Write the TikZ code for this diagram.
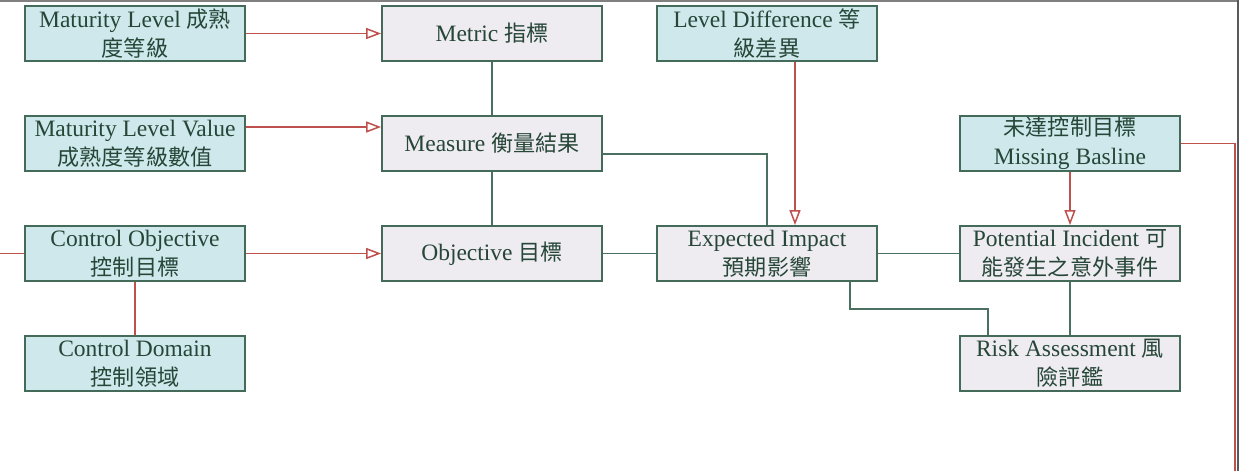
\documentclass[tikz,border=0pt]{standalone}
\usepackage{fontspec}
\setmainfont{Liberation Serif}
\newfontfamily\cjk{Noto Sans CJK TC}[Scale=0.94]
\newcommand{\zh}[1]{{\cjk #1}}
\usetikzlibrary{arrows.meta}
\definecolor{cyanfill}{RGB}{207,232,236}
\definecolor{greyfill}{RGB}{238,235,241}
\definecolor{boxline}{RGB}{68,106,90}
\definecolor{txtcol}{RGB}{38,70,55}
\definecolor{redline}{RGB}{190,80,78}
\definecolor{greenline}{RGB}{74,112,97}
\tikzset{
  box/.style={draw=boxline, line width=1.8pt, minimum width=220pt, minimum height=55pt,
    inner sep=0pt, align=center, text=txtcol, font=\fontsize{23.5}{29}\selectfont},
  cbox/.style={box, fill=cyanfill},
  gbox/.style={box, fill=greyfill},
  redc/.style={draw=redline, line width=1.5pt},
  redarrow/.style={redc, -{Triangle[open, length=15pt, width=11pt, fill=white]}},
  greenc/.style={draw=greenline, line width=1.8pt},
}
\begin{document}
\begin{tikzpicture}[x=1pt, y=-1pt]
\useasboundingbox (0,0) rectangle (1239,471);
% frame
\draw[draw=gray, line width=1.5pt] (0,1) -- (1239,1);
\draw[draw=black!65, line width=2pt] (1238,0) -- (1238,471);
% nodes
\node[cbox] (ml)  at (135,33.5)  {Maturity Level \zh{成熟}\\\zh{度等級}};
\node[cbox] (mlv) at (135,143.5) {Maturity Level Value\\\zh{成熟度等級數值}};
\node[cbox] (co)  at (135,253.5) {Control Objective\\\zh{控制目標}};
\node[cbox] (cd)  at (135,363.5) {Control Domain\\\zh{控制領域}};
\node[gbox] (metric)  at (492,33.5)  {Metric \zh{指標}};
\node[gbox] (measure) at (492,143.5) {Measure \zh{衡量結果}};
\node[gbox] (obj)     at (492,253.5) {Objective \zh{目標}};
\node[cbox] (ld) at (767,33.5)  {Level Difference \zh{等}\\\zh{級差異}};
\node[gbox] (ei) at (767,253.5) {Expected Impact\\\zh{預期影響}};
\node[cbox] (mb) at (1070,143.5) {\zh{未達控制目標}\\Missing Basline};
\node[gbox] (pi) at (1070,253.5) {Potential Incident \zh{可}\\\zh{能發生之意外事件}};
\node[gbox] (ra) at (1070,363.5) {Risk Assessment \zh{風}\\\zh{險評鑑}};
\coordinate (leftend) at (0,253.5);
\coordinate (bottomend) at (1235,471);
% red connectors
\draw[redarrow] (ml.east) -- (metric.west);
\draw[redarrow] ([yshift=16.5pt]mlv.east) -- ([yshift=16.5pt]measure.west);
\draw[redarrow] (co.east) -- (obj.west);
\draw[redc] (leftend) -- (co.west);
\draw[redc] (co.south) -- (cd.north);
\draw[redarrow] ([xshift=28pt]ld.south) -- ([xshift=28pt]ei.north);
\draw[redarrow] (mb.south) -- (pi.north);
\draw[redc] (mb.east) -| (bottomend);
% green connectors
\draw[greenc] (metric.south) -- (measure.north);
\draw[greenc] (measure.south) -- (obj.north);
\draw[greenc] ([yshift=-10.5pt]measure.east) -| (ei.north);
\draw[greenc] (obj.east) -- (ei.west);
\draw[greenc] (ei.east) -- (pi.west);
\draw[greenc] (pi.south) -- (ra.north);
\draw[greenc] ([xshift=83pt]ei.south) -- ++(0,27) -| ([xshift=-82pt]ra.north);
\end{tikzpicture}
\end{document}
